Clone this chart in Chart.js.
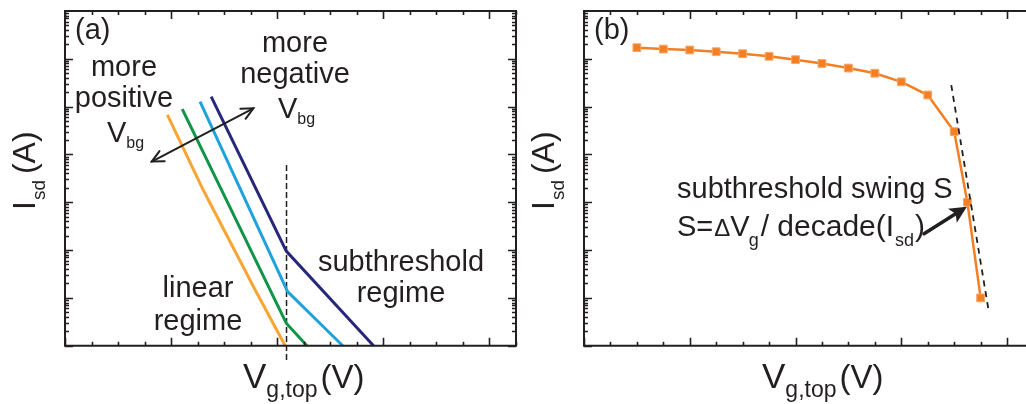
<!DOCTYPE html>
<html>
<head>
<meta charset="utf-8">
<script src="https://cdn.jsdelivr.net/npm/chart.js@4"></script>
<style>
  html, body { margin: 0; padding: 0; background: #fff; overflow: hidden; width: 1026px; height: 404px; }
  .panel { position: absolute; top: 0; height: 404px; overflow: hidden; }
  #panelA { left: 0; width: 521px; }
  #panelB { left: 519px; width: 507px; }
  canvas { display: block; width: 521px; height: 404px; }
</style>
</head>
<body>
<div class="panel" id="panelA"><canvas id="chartA" width="521" height="404" style="width:521px;height:404px"></canvas></div>
<div class="panel" id="panelB"><canvas id="chartB" width="521" height="404" style="width:521px;height:404px"></canvas></div>
<script>
// Panel (a): sketch of top-gate transfer curves for four back-gate voltages (arb. units)
const orangeVg = [3.86, 5.21, 7.17, 8.30];
const orangeIsd = [6.7e-3, 1.8e-4, 1.46e-6, 1.0e-7];
const greenVg = [4.42, 8.34, 9.12];
const greenIsd = [8.9e-3, 2.95e-7, 1.0e-7];
const blueVg = [5.09, 8.39, 10.47];
const blueIsd = [1.27e-2, 1.35e-6, 1.0e-7];
const navyVg = [5.51, 8.34, 11.63];
const navyIsd = [1.62e-2, 9.5e-6, 1.0e-7];

// threshold marker and back-gate arrow in (a)
const thresholdVg = [8.35, 8.35];
const thresholdIsd = [6.0e-4, 4.6e-8];
const vbgArrowVg = [3.27, 7.10];
const vbgArrowIsd = [7.1e-4, 9.2e-3];

// Panel (b): measured-style curve with markers
const gateVg = [2, 3, 4, 5, 6, 7, 8, 9, 10, 11, 12, 13, 14, 14.5, 15];
const gateIsd = [0.171, 0.160, 0.153, 0.141, 0.128, 0.113, 0.096, 0.080, 0.064, 0.050, 0.033, 0.0175, 3.0e-3, 1.0e-4, 1.0e-6];
const slopeVg = [13.89, 15.29];
const slopeIsd = [0.0283, 6.0e-7];
const swingArrowVg = [12.86, 14.48];
const swingArrowIsd = [2.2e-5, 8.1e-5];

// axis ranges (no numbers shown, only tick marks)
const vgMin = 0, vgMax = 17, vgMajorEvery = 4;
const isdMin = 1e-7, isdMax = 1;

const ink = '#231f20';
const FONT = '"Liberation Sans", Arial, sans-serif';

function pts(xs, ys) {
  return xs.map((x, i) => ({ x: x, y: ys[i] }));
}

// parts: [text, size, baseline shift, extra gap after]
function richText(ctx, x, y, parts, align) {
  let total = 0;
  parts.forEach(p => {
    ctx.font = p[1] + 'px ' + FONT;
    p.w = ctx.measureText(p[0]).width;
    total += p.w + (p[3] || 0);
  });
  let cx = align === 'center' ? x - total / 2 : x;
  ctx.textAlign = 'left';
  ctx.textBaseline = 'alphabetic';
  parts.forEach(p => {
    ctx.font = p[1] + 'px ' + FONT;
    ctx.fillText(p[0], cx, y + (p[2] || 0));
    cx += p.w + (p[3] || 0);
  });
}

function drawArrow(ctx, x1, y1, x2, y2, open, size) {
  const ang = Math.atan2(y2 - y1, x2 - x1);
  const a1 = ang + Math.PI - 0.45, a2 = ang + Math.PI + 0.45;
  if (open) {
    ctx.beginPath();
    ctx.moveTo(x2 + size * Math.cos(a1), y2 + size * Math.sin(a1));
    ctx.lineTo(x2, y2);
    ctx.lineTo(x2 + size * Math.cos(a2), y2 + size * Math.sin(a2));
    ctx.stroke();
  } else {
    ctx.beginPath();
    ctx.moveTo(x2, y2);
    ctx.lineTo(x2 + size * Math.cos(a1), y2 + size * Math.sin(a1));
    ctx.lineTo(x2 + size * 0.7 * Math.cos(ang + Math.PI), y2 + size * 0.7 * Math.sin(ang + Math.PI));
    ctx.lineTo(x2 + size * Math.cos(a2), y2 + size * Math.sin(a2));
    ctx.closePath();
    ctx.fill();
  }
}

// frame with inward ticks (right side only when that edge is on screen)
const framePlugin = {
  id: 'frame',
  afterDraw(chart, args, opts) {
    const { ctx, chartArea: a, scales: { x, y } } = chart;
    ctx.save();
    ctx.strokeStyle = ink;
    ctx.fillStyle = ink;
    ctx.lineWidth = 1.6;
    ctx.beginPath();
    for (let v = vgMin; v <= vgMax; v++) {
      const px = Math.round(x.getPixelForValue(v)) + 0.5;
      const len = v % vgMajorEvery === 0 ? 8 : 4;
      ctx.moveTo(px, a.bottom); ctx.lineTo(px, a.bottom - len);
      ctx.moveTo(px, a.top); ctx.lineTo(px, a.top + len);
    }
    for (let e = Math.log10(isdMin); e < Math.log10(isdMax); e++) {
      for (let k = 1; k <= 9; k++) {
        const py = Math.round(y.getPixelForValue(k * Math.pow(10, e))) + 0.5;
        const len = k === 1 ? 8 : 4;
        ctx.moveTo(a.left, py); ctx.lineTo(a.left + len, py);
        if (opts.rightTicks) {
          ctx.moveTo(a.right, py); ctx.lineTo(a.right - len, py);
        }
      }
    }
    ctx.stroke();
    ctx.lineWidth = 2;
    ctx.beginPath();
    ctx.moveTo(a.left, a.top); ctx.lineTo(a.left, a.bottom);
    ctx.moveTo(a.left - 1, a.bottom); ctx.lineTo(a.right + 1, a.bottom);
    ctx.moveTo(a.left - 1, a.top); ctx.lineTo(a.right + 1, a.top);
    if (opts.rightTicks) {
      ctx.moveTo(a.right, a.top); ctx.lineTo(a.right, a.bottom);
    }
    ctx.stroke();

    // axis titles
    richText(ctx, 243, 388, [['V', 35], ['g,top', 23, 9, 3], ['(V)', 33]]);
    ctx.translate(35, 210);
    ctx.rotate(-Math.PI / 2);
    richText(ctx, 0, 0, [['I', 32, 0, 1], ['sd', 19, 10, 6], ['(A)', 32]]);
    ctx.restore();

    ctx.save();
    ctx.fillStyle = ink;
    (opts.labels || []).forEach(l => richText(ctx, l.x, l.y, l.parts, l.align));
    ctx.restore();
  }
};

const arrowPlugin = {
  id: 'arrows',
  afterDatasetsDraw(chart, args, opts) {
    const { ctx, scales: { x, y } } = chart;
    ctx.save();
    ctx.strokeStyle = ink;
    ctx.fillStyle = ink;
    (opts.arrows || []).forEach(ar => {
      const x1 = x.getPixelForValue(ar.xs[0]), y1 = y.getPixelForValue(ar.ys[0]);
      const x2 = x.getPixelForValue(ar.xs[1]), y2 = y.getPixelForValue(ar.ys[1]);
      ctx.lineWidth = ar.width;
      ctx.lineCap = 'round';
      ctx.beginPath();
      if (ar.both) {
        ctx.moveTo(x1, y1); ctx.lineTo(x2, y2);
      } else {
        const ang = Math.atan2(y2 - y1, x2 - x1);
        ctx.moveTo(x1, y1);
        ctx.lineTo(x2 - 10 * Math.cos(ang), y2 - 10 * Math.sin(ang));
      }
      ctx.stroke();
      drawArrow(ctx, x1, y1, x2, y2, ar.both, ar.head);
      if (ar.both) drawArrow(ctx, x2, y2, x1, y1, true, ar.head);
    });
    ctx.restore();
  }
};

function lineSet(data, color, width, extra) {
  return Object.assign({
    data: data, borderColor: color, backgroundColor: color, borderWidth: width,
    showLine: true, pointRadius: 0, tension: 0, clip: false
  }, extra || {});
}

function baseOptions(labels, arrows, rightTicks) {
  return {
    responsive: false,
    animation: false,
    events: [],
    layout: { padding: { left: 65, top: 11, right: 5, bottom: 58.3 } },
    scales: {
      x: { type: 'linear', min: vgMin, max: vgMax, display: false },
      y: { type: 'logarithmic', min: isdMin, max: isdMax, display: false }
    },
    plugins: {
      legend: { display: false },
      tooltip: { enabled: false },
      frame: { labels: labels, rightTicks: rightTicks },
      arrows: { arrows: arrows }
    }
  };
}

const labelsA = [
  { x: 75, y: 39, parts: [['(a)', 29]] },
  { x: 124, y: 76, align: 'center', parts: [['more', 29]] },
  { x: 124, y: 107, align: 'center', parts: [['positive', 29]] },
  { x: 107, y: 141.5, parts: [['V', 29], ['bg', 16, 6.5]] },
  { x: 295, y: 52, align: 'center', parts: [['more', 29]] },
  { x: 295, y: 83, align: 'center', parts: [['negative', 29]] },
  { x: 278, y: 118, parts: [['V', 29], ['bg', 16, 6]] },
  { x: 401, y: 270.5, align: 'center', parts: [['subthreshold', 29]] },
  { x: 401, y: 301.5, align: 'center', parts: [['regime', 29]] },
  { x: 198, y: 297, align: 'center', parts: [['linear', 29]] },
  { x: 198, y: 329.5, align: 'center', parts: [['regime', 29]] }
];

const labelsB = [
  { x: 75, y: 39, parts: [['(b)', 29]] },
  { x: 158, y: 198, parts: [['subthreshold swing S', 29]] },
  { x: 158, y: 235.5, parts: [['S=', 29, 0, 1], ['\u0394', 24], ['V', 29, 0, -1], ['g', 18, 10, 2], ['/ decade(I', 30, 0, 1], ['sd', 18, 10, 1], [')', 30]] }
];

new Chart(document.getElementById('chartA'), {
  type: 'scatter',
  data: {
    datasets: [
      lineSet(pts(orangeVg, orangeIsd), '#f9a533', 3),
      lineSet(pts(greenVg, greenIsd), '#109447', 3),
      lineSet(pts(blueVg, blueIsd), '#1fa2dc', 3),
      lineSet(pts(navyVg, navyIsd), '#28287a', 3),
      lineSet(pts(thresholdVg, thresholdIsd), ink, 1.5, { borderDash: [6, 3] })
    ]
  },
  options: baseOptions(labelsA, [{ xs: vbgArrowVg, ys: vbgArrowIsd, both: true, width: 2, head: 13 }], true),
  plugins: [arrowPlugin, framePlugin]
});

new Chart(document.getElementById('chartB'), {
  type: 'scatter',
  data: {
    datasets: [
      lineSet(pts(slopeVg, slopeIsd), ink, 1.8, { borderDash: [6, 5] }),
      lineSet(pts(gateVg, gateIsd), '#f47f22', 2.5, {
        pointRadius: 5.5, pointStyle: 'rect', pointBorderColor: '#f7a76a', pointBorderWidth: 1,
        pointBackgroundColor: '#f47f22'
      })
    ]
  },
  options: baseOptions(labelsB, [{ xs: swingArrowVg, ys: swingArrowIsd, both: false, width: 3.5, head: 19 }], false),
  plugins: [arrowPlugin, framePlugin]
});
</script>
</body>
</html>
